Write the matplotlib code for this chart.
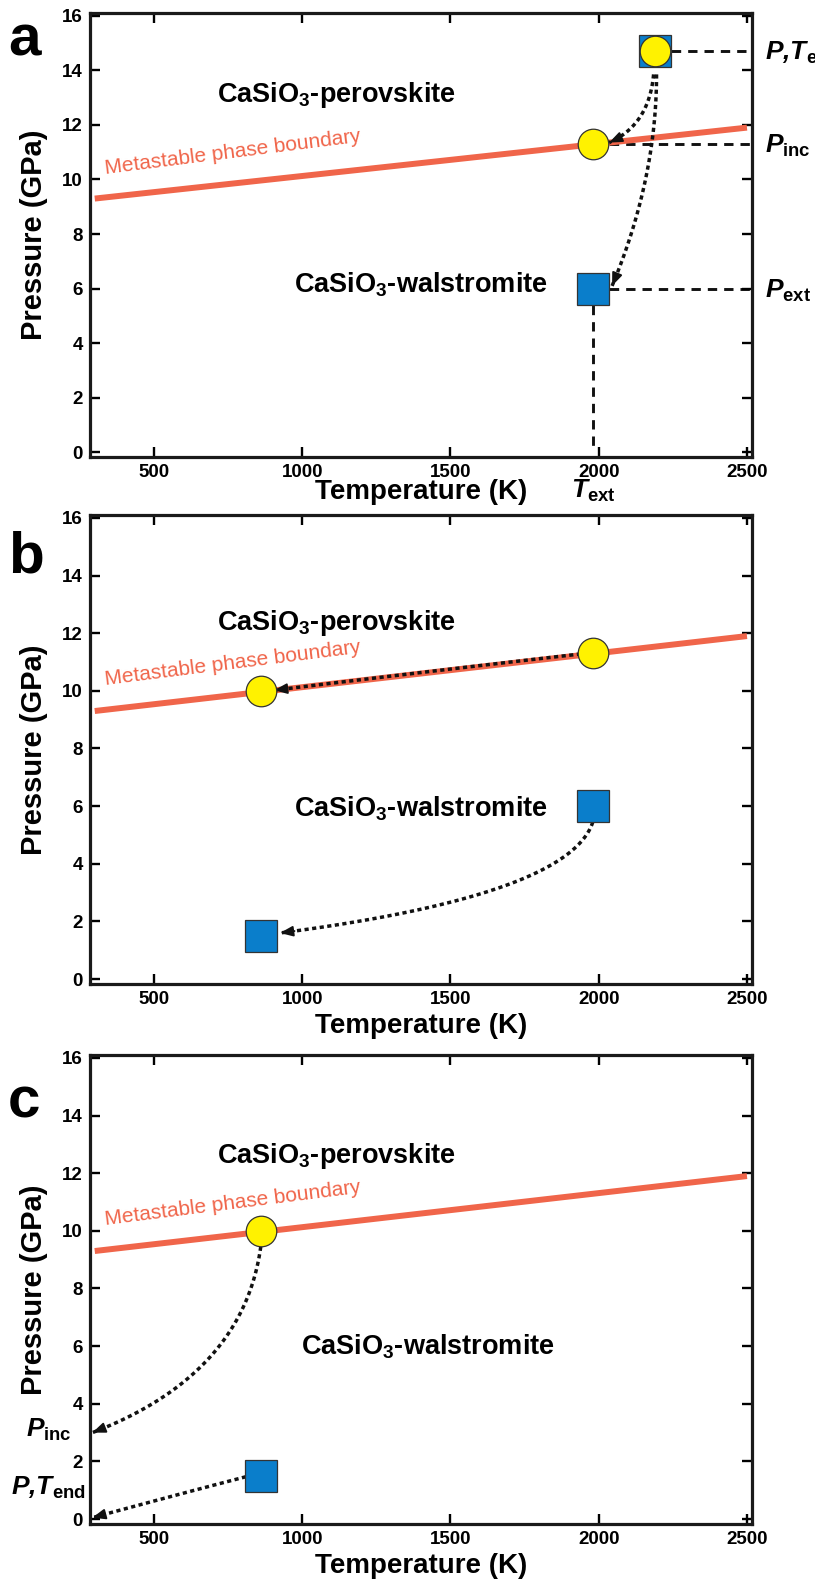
import numpy as np
import matplotlib
matplotlib.use("Agg")
import matplotlib.pyplot as plt
from matplotlib import transforms

plt.rcParams['font.family'] = ['Liberation Sans', 'DejaVu Sans']
plt.rcParams['font.weight'] = 'bold'
plt.rcParams['axes.labelweight'] = 'bold'
plt.rcParams['mathtext.fontset'] = 'custom'
plt.rcParams['mathtext.rm'] = 'Liberation Sans:bold'
plt.rcParams['mathtext.it'] = 'Liberation Sans:italic:bold'
plt.rcParams['mathtext.bf'] = 'Liberation Sans:bold'

# metastable perovskite/walstromite boundary
bound_T = [300, 2500]
bound_P = [9.3, 11.9]

# states along the path
start_T, start_P = 2190, 14.7     # P,T_e
inc_T, inc_P = 1980, 11.3         # inclusion pressure on the boundary
ext_T, ext_P = 1980, 6.0          # external pressure
cool_T = 860                      # after cooling
cool_inc_P = 10.0
cool_ext_P = 1.5
# values read back at the left axis (panel c)
read_T = 292
read_inc_P = 3.0
read_end_P = 0.05

xticks = [500, 1000, 1500, 2000, 2500]
yticks = [0, 2, 4, 6, 8, 10, 12, 14, 16]
xlim = (284, 2517)
ylim = (-0.17, 16.1)

orange = '#F0654A'
blue = '#0A7ECB'
yellow = '#FFF200'

fig = plt.figure(figsize=(8.15, 15.87), dpi=100)
W, H = 815, 1587


def make_axes(top, height, label_gap, perov_y, walst_x, walst_y):
    ax = fig.add_axes([90 / W, 1 - (top + height) / H, 662 / W, height / H])
    ax.set_xlim(*xlim)
    ax.set_ylim(*ylim)
    ax.set_xticks(xticks)
    ax.set_yticks(yticks)
    ax.tick_params(direction='in', top=True, right=True, length=7, width=1.7,
                   labelsize=13.5, pad=5)
    for s in ax.spines.values():
        s.set_linewidth(2.3)
        s.set_color('#1a1a1a')
    ax.set_xlabel('Temperature (K)', fontsize=20)
    ax.xaxis.set_label_coords(0.5, -label_gap / height)
    ax.xaxis.label.set_va('center')
    ax.set_ylabel('Pressure (GPa)', fontsize=21)
    ax.yaxis.set_label_coords(-0.085, 0.5)
    ax.yaxis.label.set_va('center')
    ax.plot(bound_T, bound_P, color=orange, lw=4.3, solid_capstyle='butt', zorder=2)
    ax.text(335, 10.2, 'Metastable phase boundary', color=orange, fontsize=15,
            fontweight='normal', rotation=7.2, rotation_mode='anchor',
            ha='left', va='baseline')
    ax.text(1115, perov_y, 'CaSiO$_3$-perovskite', fontsize=19.5, ha='center', va='baseline')
    ax.text(walst_x, walst_y, 'CaSiO$_3$-walstromite', fontsize=19.5, ha='center', va='baseline')
    return ax


def bezier(p0, c, p2, n=120):
    t = np.linspace(0, 1, n)[:, None]
    return (1 - t) ** 2 * np.array(p0) + 2 * t * (1 - t) * np.array(c) + t ** 2 * np.array(p2)


def dotted_arrow(ax, p0, c, p2):
    pts = bezier(p0, c, p2)
    ax.plot(pts[:, 0], pts[:, 1], color='#111111', lw=2.5, linestyle=(0, (1.2, 1.0)),
            dash_capstyle='butt', zorder=3, clip_on=False)
    ax.annotate('', xy=pts[-1], xytext=pts[-4],
                arrowprops=dict(arrowstyle='-|>,head_length=0.55,head_width=0.22',
                                color='#111111', lw=1.4, shrinkA=0, shrinkB=0,
                                mutation_scale=14), zorder=3)


def square(ax, T, P):
    ax.plot(T, P, 's', ms=23, mfc=blue, mec='#333333', mew=0.9, zorder=4)


def circle(ax, T, P):
    ax.plot(T, P, 'o', ms=22, mfc=yellow, mec='#333333', mew=0.9, zorder=5)


dash = dict(color='#111111', lw=2.1, linestyle=(0, (3.2, 2.4)), zorder=1)


def right_trans(ax):
    return transforms.offset_copy(
        transforms.blended_transform_factory(ax.transAxes, ax.transData),
        fig=fig, y=-6.5, units='points')


# ---- a: decompression from P,T_e
ax = make_axes(13, 444, 35, 12.85, 1400, 5.84)
for x0, P in ((start_T, start_P), (inc_T, inc_P), (ext_T, ext_P)):
    ax.plot([x0, xlim[1]], [P, P], **dash)
ax.plot([ext_T, ext_T], [ext_P, 0], **dash)
dotted_arrow(ax, (start_T - 5, 13.85), (2170, 12.0), (inc_T + 55, inc_P + 0.05))
dotted_arrow(ax, (start_T + 5, 13.85), (2195, 10.0), (ext_T + 65, ext_P + 0.1))
square(ax, start_T, start_P)
circle(ax, start_T, start_P)
circle(ax, inc_T, inc_P)
square(ax, ext_T, ext_P)
tr = right_trans(ax)
ax.text(1.02, start_P, r'$\mathit{P}$,$\mathit{T}_\mathrm{e}$', fontsize=19, style='italic',
        transform=tr, va='baseline')
ax.text(1.02, inc_P, r'$\mathit{P}_\mathrm{inc}$', fontsize=19, transform=tr, va='baseline')
ax.text(1.02, ext_P, r'$\mathit{P}_\mathrm{ext}$', fontsize=19, transform=tr, va='baseline')
ax.text(ext_T, -41 / 444, r'$\mathit{T}_\mathrm{ext}$', fontsize=19, ha='center', va='baseline',
        transform=transforms.blended_transform_factory(ax.transData, ax.transAxes))

# ---- b: cooling
ax = make_axes(515, 469, 42, 12.1, 1400, 5.65)
dotted_arrow(ax, (inc_T - 40, inc_P - 0.02), ((inc_T + cool_T) / 2, (inc_P + cool_inc_P) / 2 + 0.02),
             (cool_T + 45, cool_inc_P + 0.02))
dotted_arrow(ax, (ext_T, ext_P - 0.55), (1900, 2.9), (cool_T + 65, cool_ext_P + 0.1))
circle(ax, inc_T, inc_P)
circle(ax, cool_T, cool_inc_P)
square(ax, ext_T, ext_P)
square(ax, cool_T, cool_ext_P)

# ---- c: read-out at room temperature
ax = make_axes(1055, 469, 42, 12.35, 1425, 5.7)
dotted_arrow(ax, (cool_T, cool_inc_P - 0.55), (800, 5.0), (read_T, read_inc_P))
dotted_arrow(ax, (cool_T - 50, cool_ext_P - 0.03), (560, 0.8), (read_T, read_end_P))
circle(ax, cool_T, cool_inc_P)
square(ax, cool_T, cool_ext_P)
trl = transforms.blended_transform_factory(ax.transAxes, ax.transData)
ax.text(-0.027, 2.85, r'$\mathit{P}_\mathrm{inc}$', fontsize=19, transform=trl,
        ha='right', va='baseline')
ax.text(-0.006, 0.85, r'$\mathit{P}$,$\mathit{T}_\mathrm{end}$', fontsize=19, style='italic',
        transform=trl, ha='right', va='baseline')

# panel letters
for letter, base in (('a', 56), ('b', 572), ('c', 1118)):
    fig.text(8 / W, 1 - base / H, letter, fontsize=42, ha='left', va='baseline')

fig.savefig('out.png', dpi=100)
